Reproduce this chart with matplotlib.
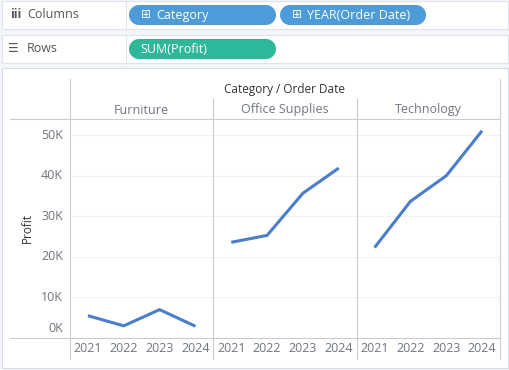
import matplotlib
matplotlib.use("Agg")
import matplotlib.pyplot as plt
from matplotlib.patches import Rectangle, Ellipse
from matplotlib.lines import Line2D

# ---- data ----
categories = ["Furniture", "Office Supplies", "Technology"]
years = ["2021", "2022", "2023", "2024"]
profit = {
    "Furniture": [5500, 3000, 7000, 2900],
    "Office Supplies": [23600, 25300, 35700, 41900],
    "Technology": [22300, 33700, 40000, 51100],
}
y_ticks = [0, 10000, 20000, 30000, 40000, 50000]
y_tick_labels = ["0K", "10K", "20K", "30K", "40K", "50K"]

W, H = 510, 370
fig = plt.figure(figsize=(W / 100, H / 100), dpi=100)
fig.patch.set_facecolor("#f3f5f9")
plt.rcParams["font.family"] = ["Open Sans", "DejaVu Sans"]

def fx(px):
    return px / W

def fy(py):
    return 1 - py / H

def hline(x0, x1, y, color, lw=1.0):
    fig.add_artist(Line2D([fx(x0), fx(x1)], [fy(y), fy(y)], color=color, lw=lw,
                          transform=fig.transFigure, zorder=5))

def vline(x, y0, y1, color, lw=1.0):
    fig.add_artist(Line2D([fx(x), fx(x)], [fy(y0), fy(y1)], color=color, lw=lw,
                          transform=fig.transFigure, zorder=5))

# ---- shelves ----
for (y0, y1) in [(1, 29), (35, 63)]:
    fig.add_artist(Rectangle((fx(2), fy(y1)), fx(506), (y1 - y0) / H, transform=fig.transFigure,
                             facecolor="white", edgecolor="#dfe3ec", lw=0.8, zorder=-2))
    vline(126, y0, y1, "#dfe3ec", 0.8)

fig.text(fx(10), fy(15), "iii", fontsize=9, color="#555555", fontweight="bold", va="center", ha="left")
fig.text(fx(27), fy(15), "Columns", fontsize=9, color="#555555", va="center", ha="left")
fig.text(fx(8), fy(49), "\u2630", fontsize=8.5, color="#555555", va="center", ha="left", family=["DejaVu Sans"])
fig.text(fx(27), fy(49), "Rows", fontsize=9, color="#555555", va="center", ha="left")

def pill(x0, x1, y0, y1, color, text, plus=False):
    h = (y1 - y0)
    fig.add_artist(Rectangle((fx(x0 + h / 2), fy(y1)), fx(x1 - x0 - h), h / H,
                             transform=fig.transFigure, facecolor=color, edgecolor="none"))
    for cx in (x0 + h / 2, x1 - h / 2):
        fig.add_artist(Ellipse((fx(cx), fy((y0 + y1) / 2)), h / W, h / H,
                               transform=fig.transFigure, facecolor=color, edgecolor="none"))
    tx = x0 + 11
    if plus:
        fig.text(fx(x0 + 12), fy((y0 + y1) / 2), "\u229e", fontsize=8.5, color="white",
                 va="center", ha="left", family=["DejaVu Sans"])
        tx = x0 + 27
    fig.text(fx(tx), fy((y0 + y1) / 2 + 0.5), text, fontsize=9, color="white",
             va="center", ha="left")

pill(129, 276, 5, 25, "#4d9bd9", "Category", plus=True)
pill(280, 426, 5, 25, "#4d9bd9", "YEAR(Order Date)", plus=True)
pill(129, 276, 39, 59, "#2db999", "SUM(Profit)")

# ---- chart panel ----
fig.add_artist(Rectangle((fx(2), fy(368)), fx(506), 300 / H, transform=fig.transFigure,
                         facecolor="white", edgecolor="#d6dce8", lw=0.8, zorder=-2))

left, right = 70, 500
top, bottom = 119, 338
pane_w = (right - left) / len(categories)
ymax = 54000
line_color = "#4a7ec9"
grid_color = "#f2f2f2"
border = "#c9ccd3"

for i, cat in enumerate(categories):
    x0 = left + i * pane_w
    ax = fig.add_axes([fx(x0), fy(bottom), pane_w / W, (bottom - top) / H])
    ax.set_zorder(3)
    ax.patch.set_alpha(0)
    xs = list(range(len(years)))
    for t in y_ticks[1:]:
        ax.axhline(t, color=grid_color, lw=0.8, zorder=0)
    ax.plot(xs, profit[cat], color=line_color, lw=2.2, solid_capstyle="butt", zorder=3)
    ax.set_xlim(-0.5, len(years) - 0.5)
    ax.set_ylim(0, ymax)
    ax.set_xticks(xs)
    ax.set_xticklabels(years)
    ax.tick_params(axis="x", length=0, pad=3, labelsize=9, labelcolor="#707580")
    ax.set_yticks([])
    for s in ax.spines.values():
        s.set_visible(False)
    fig.text(fx(x0 + pane_w / 2), fy(110), cat, fontsize=9, color="#707580",
             ha="center", va="center")
    if i == 0:
        for t, lab in zip(y_ticks, y_tick_labels):
            yp = bottom - (bottom - top) * t / ymax
            if t == 0:
                yp = bottom - 9
            fig.text(fx(63), fy(yp), lab, fontsize=9, color="#707580", ha="right", va="center")

# frame lines
hline(10, right, top, border, 0.8)
hline(10, right, bottom, border, 0.8)
vline(left, 79, 359, border, 0.8)
for i in range(1, len(categories)):
    vline(left + i * pane_w, 99, 359, border, 0.8)
vline(right, 79, 359, border, 0.8)

fig.text(fx(285), fy(89), "Category / Order Date", fontsize=8.5, color="#333333",
         ha="center", va="center", fontweight="medium")
fig.text(fx(27), fy(228), "Profit", fontsize=8.5, color="#333333", rotation=90,
         ha="center", va="center", fontweight="medium")

fig.savefig("out.png", dpi=100, facecolor=fig.get_facecolor())
